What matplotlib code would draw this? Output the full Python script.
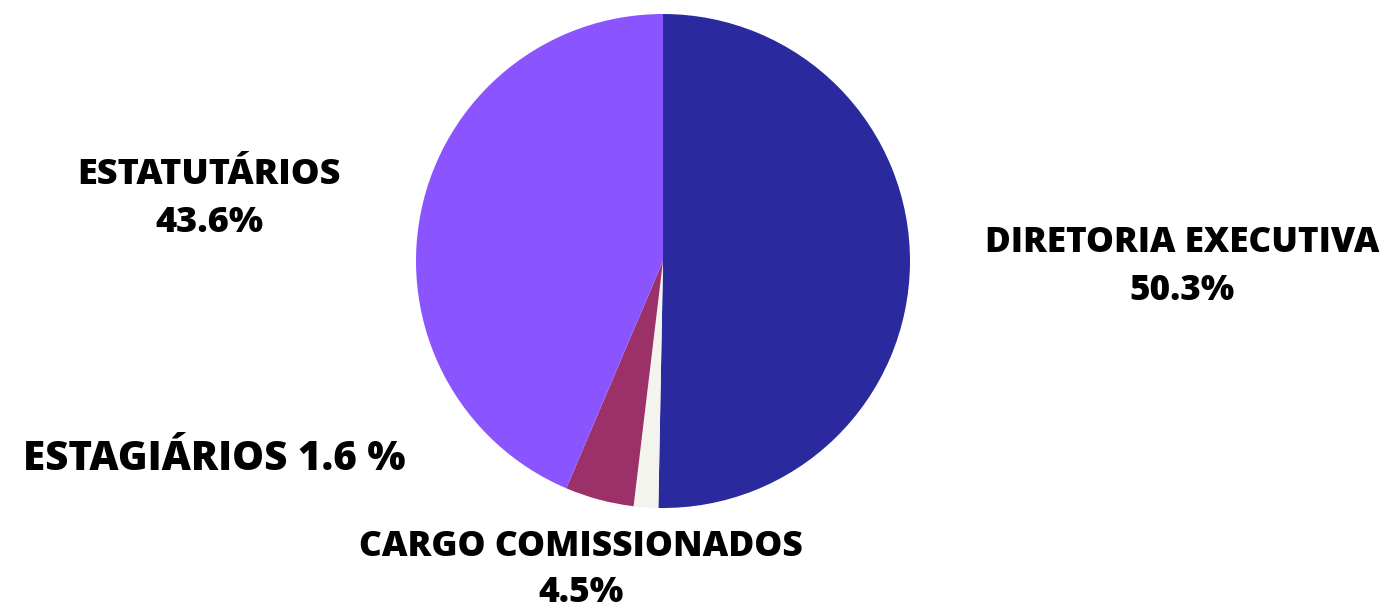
import matplotlib.pyplot as plt

# slice data, clockwise from the top
labels = ['DIRETORIA EXECUTIVA', 'ESTAGIÁRIOS', 'CARGO COMISSIONADOS', 'ESTATUTÁRIOS']
values = [50.3, 1.6, 4.5, 43.6]
colors = ['#2A2A9E', '#F4F4EF', '#9C3068', '#8A55FF']

W, H = 1387, 610
fig = plt.figure(figsize=(W / 100, H / 100), dpi=100)

# pie axes: centre (663, 261) px, radius 247 px
cx, cy, r = 663, 261, 247
ax = fig.add_axes([(cx - r) / W, (H - cy - r) / H, 2 * r / W, 2 * r / H])
ax.pie(values, colors=colors, startangle=90, counterclock=False,
       wedgeprops={'linewidth': 0})
ax.set_xlim(-1, 1)
ax.set_ylim(-1, 1)
ax.set_aspect('equal')
ax.axis('off')

font = dict(family=['Open Sans', 'DejaVu Sans'], weight=800, color='black',
            ha='center', va='center')


def px(x, y, s, size, ls=1.2):
    fig.text(x / W, 1 - y / H, s, fontsize=size, linespacing=ls, **font)


px(1182, 267, labels[0] + '\n' + f'{values[0]}%', 25.3, 1.42)
px(214, 460, labels[1] + f' {values[1]} %', 29)
px(581, 570, labels[2] + '\n' + f'{values[2]}%', 25.5, 1.4)
px(209, 199, labels[3] + '\n' + f'{values[3]}%', 26, 1.42)

fig.savefig('out.png', dpi=100)
